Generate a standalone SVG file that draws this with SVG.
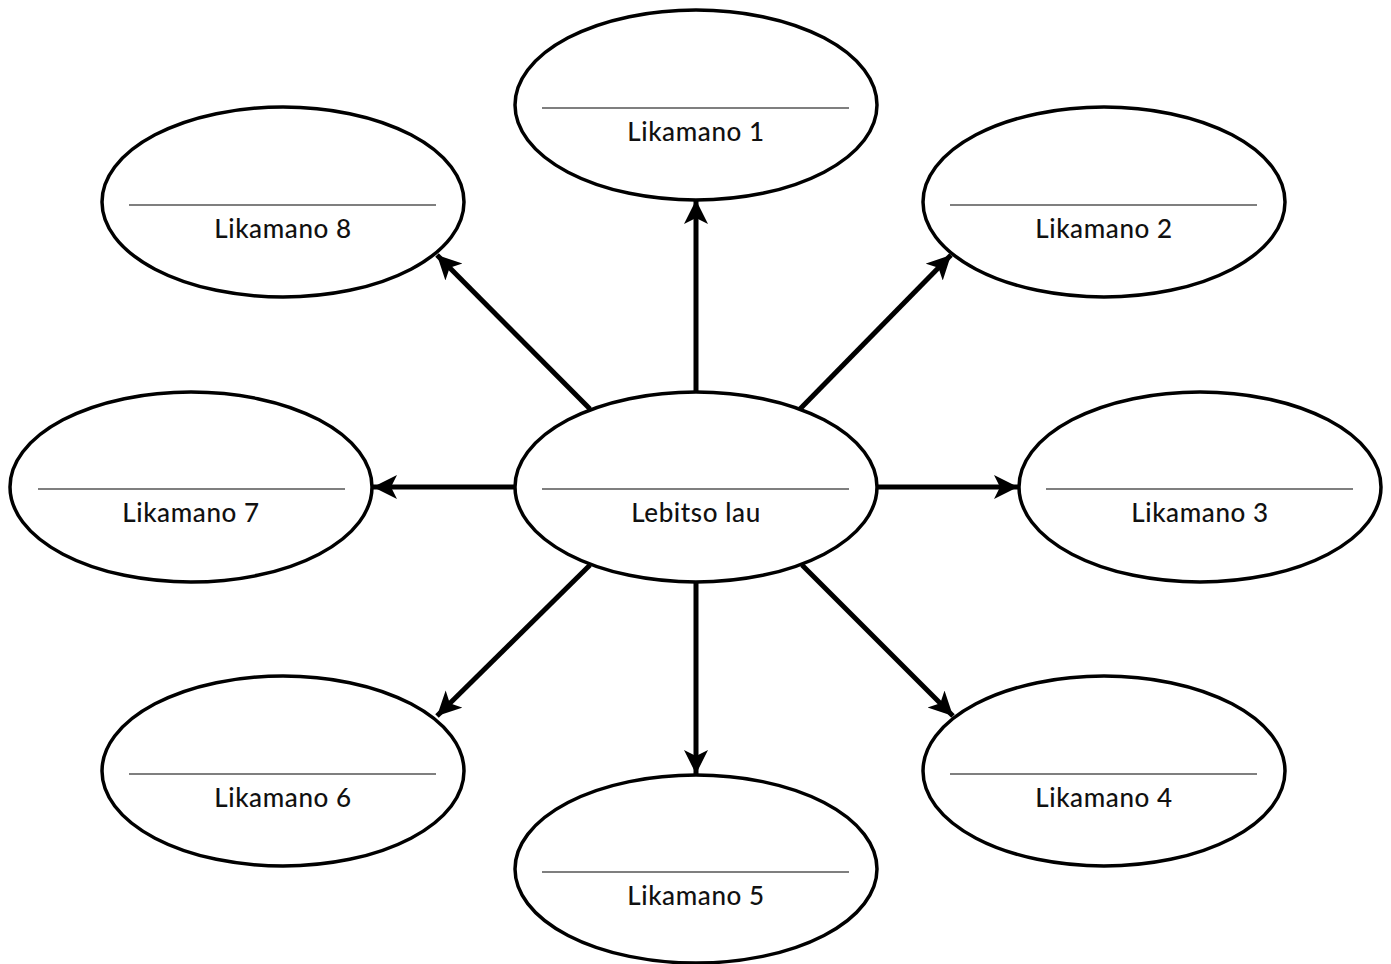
<svg xmlns="http://www.w3.org/2000/svg" width="1391" height="964" viewBox="0 0 1391 964">
<style>
.node ellipse{fill:#fff;stroke:#000;stroke-width:3.5}
.node line{stroke:#555;stroke-width:1.5}
.node text{font-family:Lato,"Open Sans",sans-serif;font-size:26px;letter-spacing:0.6px;font-weight:500;fill:#111;text-anchor:middle}
.conn line{stroke:#000;stroke-width:5}
</style>
<defs>
<marker id="ah" markerUnits="userSpaceOnUse" markerWidth="28" markerHeight="26" refX="24" refY="12" orient="auto">
<path d="M0,0 L24,12 L0,24 L6,12 Z" fill="#000"/>
</marker>
</defs>
<rect width="1391" height="964" fill="#fff"/>
<g class="conn">
<line x1="696" y1="392" x2="696" y2="200" marker-end="url(#ah)"/>
<line x1="800" y1="409" x2="951" y2="255" marker-end="url(#ah)"/>
<line x1="878" y1="487" x2="1018" y2="487" marker-end="url(#ah)"/>
<line x1="802" y1="565" x2="953" y2="716" marker-end="url(#ah)"/>
<line x1="696" y1="582" x2="696" y2="774" marker-end="url(#ah)"/>
<line x1="590" y1="565" x2="437" y2="716" marker-end="url(#ah)"/>
<line x1="514" y1="487" x2="373" y2="487" marker-end="url(#ah)"/>
<line x1="590" y1="409" x2="437" y2="255" marker-end="url(#ah)"/>
</g>
<g id="center" class="node"><ellipse cx="696" cy="487" rx="181" ry="95"/><line x1="542" y1="489" x2="849" y2="489"/><text x="696" y="522">Lebitso lau</text></g>
<g id="n1" class="node"><ellipse cx="696" cy="105" rx="181" ry="95"/><line x1="542" y1="108" x2="849" y2="108"/><text x="696" y="141">Likamano 1</text></g>
<g id="n2" class="node"><ellipse cx="1104" cy="202" rx="181" ry="95"/><line x1="950" y1="205" x2="1257" y2="205"/><text x="1104" y="238">Likamano 2</text></g>
<g id="n3" class="node"><ellipse cx="1200" cy="487" rx="181" ry="95"/><line x1="1046" y1="489" x2="1353" y2="489"/><text x="1200" y="522">Likamano 3</text></g>
<g id="n4" class="node"><ellipse cx="1104" cy="771" rx="181" ry="95"/><line x1="950" y1="774" x2="1257" y2="774"/><text x="1104" y="807">Likamano 4</text></g>
<g id="n5" class="node"><ellipse cx="696" cy="869" rx="181" ry="94"/><line x1="542" y1="872" x2="849" y2="872"/><text x="696" y="905">Likamano 5</text></g>
<g id="n6" class="node"><ellipse cx="283" cy="771" rx="181" ry="95"/><line x1="129" y1="774" x2="436" y2="774"/><text x="283" y="807">Likamano 6</text></g>
<g id="n7" class="node"><ellipse cx="191" cy="487" rx="181" ry="95"/><line x1="38" y1="489" x2="345" y2="489"/><text x="191" y="522">Likamano 7</text></g>
<g id="n8" class="node"><ellipse cx="283" cy="202" rx="181" ry="95"/><line x1="129" y1="205" x2="436" y2="205"/><text x="283" y="238">Likamano 8</text></g>
</svg>
